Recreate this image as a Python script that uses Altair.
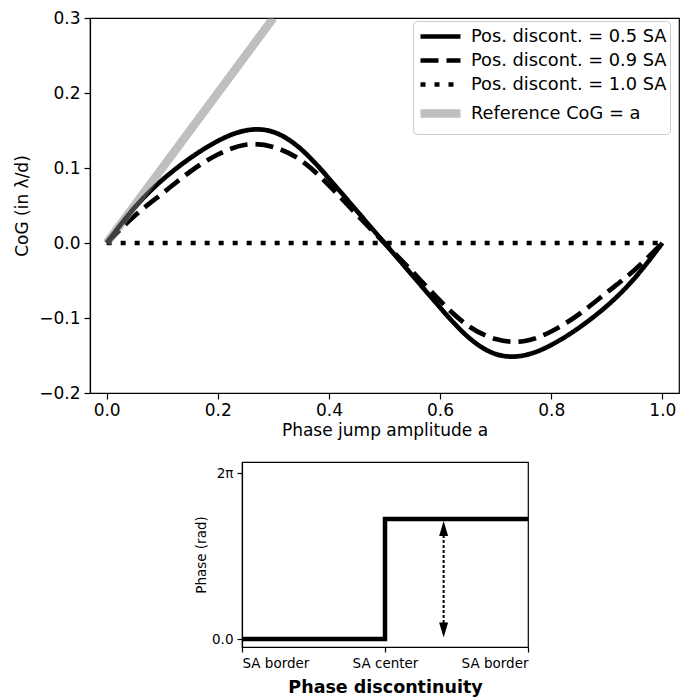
import altair as alt
import pandas as pd

# ---------------- data ----------------
a_vals = [0.0, 0.05, 0.10, 0.15, 0.20, 0.25, 0.30, 0.35, 0.40, 0.45, 0.50,
          0.55, 0.60, 0.65, 0.70, 0.75, 0.80, 0.85, 0.90, 0.95, 1.0]
cog_05 = [0.0, 0.047, 0.084, 0.113, 0.136, 0.150, 0.148, 0.125, 0.086, 0.043, 0.0,
          -0.043, -0.086, -0.125, -0.148, -0.150, -0.136, -0.113, -0.084, -0.047, 0.0]
cog_09 = [0.0, 0.036, 0.066, 0.095, 0.118, 0.131, 0.128, 0.110, 0.077, 0.038, 0.0,
          -0.038, -0.077, -0.110, -0.128, -0.131, -0.118, -0.095, -0.066, -0.036, 0.0]
cog_10 = [0.0, 0.0, 0.0, 0.0, 0.0, 0.0, 0.0, 0.0, 0.0, 0.0, 0.0,
          0.0, 0.0, 0.0, 0.0, 0.0, 0.0, 0.0, 0.0, 0.0, 0.0]
ref_a = [0.0, 0.3]
ref_cog = [0.0, 0.3]

series_names = ["Pos. discont. = 0.5 SA", "Pos. discont. = 0.9 SA",
                "Pos. discont. = 1.0 SA", "Reference CoG = a"]

x_ticks = [0.0, 0.2, 0.4, 0.6, 0.8, 1.0]
y_ticks = [-0.2, -0.1, 0.0, 0.1, 0.2, 0.3]

# bottom panel: phase step
step_x = [-1.0, 0.0, 0.0, 1.0]
step_phase = [0.0, 0.0, 4.54, 4.54]
arrow_x = [0.41]
arrow_level = [4.54]
arrow_base = [0.0]
two_pi = 6.283185307179586
sa_ticks = [-1.0, 0.0, 1.0]

# ---------------- tables ----------------
rows = []
for name, ys in zip(series_names[:3], [cog_05, cog_09, cog_10]):
    for i, (a, y) in enumerate(zip(a_vals, ys)):
        rows.append({"a": a, "cog": y, "series": name, "idx": i})
for i, (a, y) in enumerate(zip(ref_a, ref_cog)):
    rows.append({"a": a, "cog": y, "series": series_names[3], "idx": i})
df = pd.DataFrame(rows)

df_step = pd.DataFrame({"x": step_x, "phase": step_phase, "idx": list(range(len(step_x)))})
df_arrow = pd.DataFrame({"x": arrow_x, "top": arrow_level, "base": arrow_base})

FONT = "DejaVu Sans"

leg = alt.Legend(
    title=None, orient="none", legendX=323, legendY=3,
    symbolType="M-1,0H3", symbolSize=400,
    labelFontSize=17.8, labelLimit=400, labelOffset=26, labelColor="black",
    strokeColor="#cccccc", cornerRadius=4, fillColor="rgba(255,255,255,0.8)",
    padding=3, rowPadding=2,
)

top = alt.Chart(df).mark_line(interpolate="natural", clip=True, strokeCap="butt").encode(
    x=alt.X("a:Q", scale=alt.Scale(domain=[-0.03, 1.03], nice=False, zero=False),
            axis=alt.Axis(values=x_ticks, format=".1f", title="Phase jump amplitude a",
                          labelFontSize=17, titleFontSize=17, tickSize=6, labelPadding=3,
                          titlePadding=4)),
    y=alt.Y("cog:Q", scale=alt.Scale(domain=[-0.2, 0.3], nice=False, zero=False),
            axis=alt.Axis(values=y_ticks, format=".1f", title="CoG (in λ/d)",
                          labelFontSize=17, titleFontSize=17, tickSize=6, labelPadding=4,
                          titlePadding=7)),
    color=alt.Color("series:N", scale=alt.Scale(domain=series_names,
                    range=["black", "black", "black", "#808080"]), legend=leg),
    strokeDash=alt.StrokeDash("series:N", scale=alt.Scale(domain=series_names,
                    range=[[1, 0], [18, 8], [5, 9], [1, 0]]), legend=leg),
    strokeWidth=alt.StrokeWidth("series:O", scale=alt.Scale(type="ordinal", domain=series_names,
                    range=[4.7, 4.7, 4.7, 8.5]), legend=leg),
    opacity=alt.Opacity("series:O", scale=alt.Scale(type="ordinal", domain=series_names,
                    range=[1.0, 1.0, 1.0, 0.5]), legend=leg),
    order="idx:Q",
).properties(width=589, height=375)

xb = alt.X("x:Q", scale=alt.Scale(domain=[-1, 1], nice=False, zero=False),
           axis=alt.Axis(values=sa_ticks,
                         labelExpr="datum.value == 0 ? 'SA center' : 'SA border'",
                         title="Phase discontinuity", titleFontWeight="bold",
                         titleFontSize=17.5, labelFontSize=13.5, tickSize=5,
                         labelPadding=4, titlePadding=9))
yb_scale = alt.Scale(domain=[-0.3, 6.7], nice=False, zero=False)
yb_axis = alt.Axis(values=[0.0, two_pi],
                   labelExpr="datum.value == 0 ? '0.0' : '2π'",
                   title="Phase (rad)", titleFontSize=13.5, labelFontSize=13.5,
                   tickSize=5, labelPadding=4, titlePadding=3)

step = alt.Chart(df_step).mark_line(color="black", strokeWidth=4.5, strokeJoin="miter").encode(
    x=xb,
    y=alt.Y("phase:Q", scale=yb_scale, axis=yb_axis),
    order="idx:Q",
)

shaft = alt.Chart(df_arrow).mark_rule(color="black", strokeWidth=2, strokeDash=[3, 2],
                                     yOffset=16, y2Offset=-14).encode(
    x="x:Q", y="top:Q", y2="base:Q")

head_up = alt.Chart(df_arrow).mark_point(shape="M0,-1L0.6,1L-0.6,1Z", filled=True, size=225,
                                         color="black", opacity=1, yOffset=9.5).encode(
    x="x:Q", y="top:Q")
head_down = alt.Chart(df_arrow).mark_point(shape="M0,1L0.6,-1L-0.6,-1Z", filled=True, size=225,
                                           color="black", opacity=1, yOffset=-9).encode(
    x="x:Q", y="base:Q")

bottom = alt.layer(step, shaft, head_up, head_down).properties(width=286, height=185)

spacer = alt.Chart(pd.DataFrame({"v": [0]})).mark_point(opacity=0, size=1).encode(
    x=alt.value(5), y=alt.value(5)
).properties(width=103, height=10, view=alt.ViewBackground(strokeOpacity=0))

chart = alt.vconcat(
    top,
    alt.hconcat(spacer, bottom, spacing=0),
    spacing=22,
).properties(
    padding={"left": 5, "top": 0, "right": 5, "bottom": 0}
).configure(
    font=FONT,
).configure_view(
    stroke="black", strokeWidth=1.2,
).configure_axis(
    grid=False, domainColor="black", domainWidth=1.2, tickColor="black", tickWidth=1.2,
    labelColor="black", titleColor="black", titleFontWeight="normal", labelFont=FONT,
    titleFont=FONT,
).configure_legend(
    labelFont=FONT,
)

chart.save("out.html", embed_options={"renderer": "svg", "actions": False})
